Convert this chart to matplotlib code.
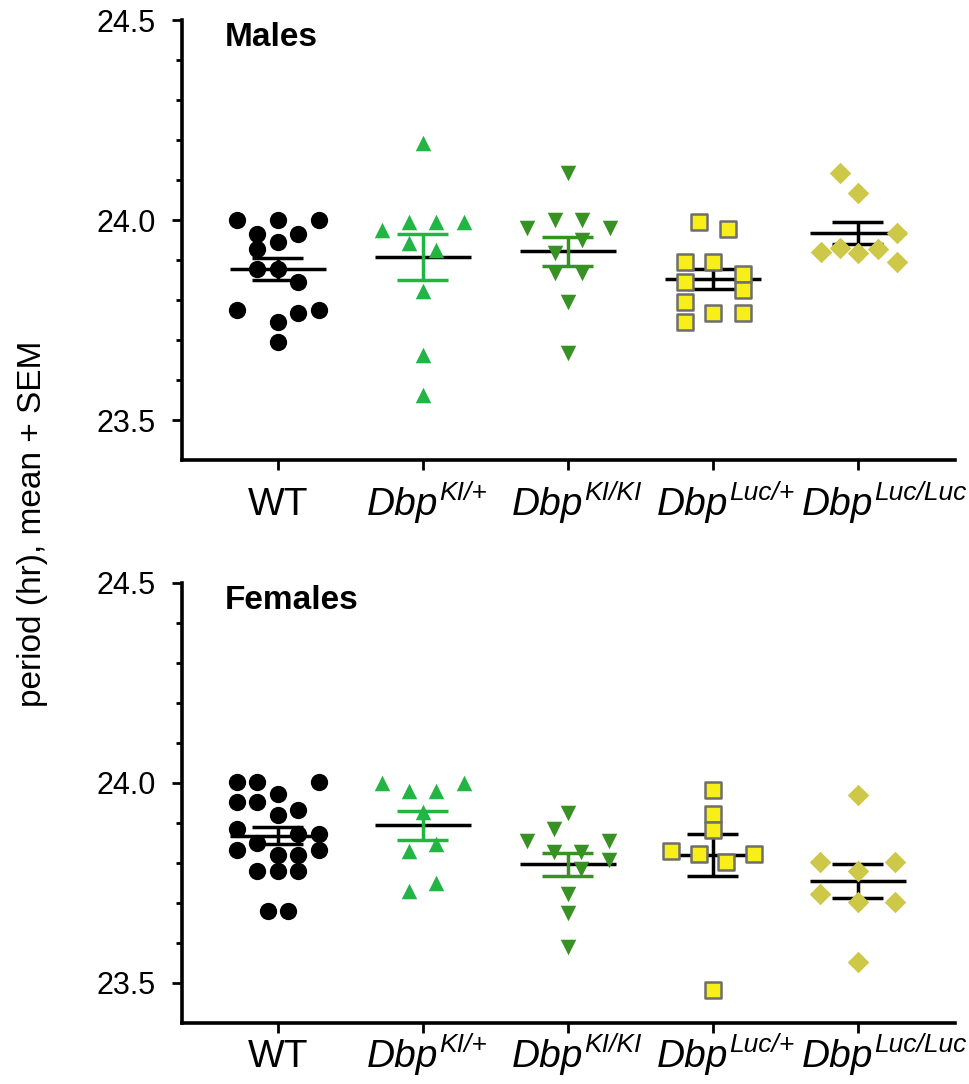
import numpy as np
from matplotlib import pyplot as plt
from matplotlib.ticker import FixedLocator
from matplotlib.transforms import offset_copy

plt.rcParams['font.family'] = ['Liberation Sans', 'DejaVu Sans']

GENOTYPES = ['WT', 'KI/+', 'KI/KI', 'Luc/+', 'Luc/Luc']
# (gene, allele superscript) for each x tick
TICK_LABELS = [('WT', None), ('Dbp', 'KI/+'), ('Dbp', 'KI/KI'), ('Dbp', 'Luc/+'), ('Dbp', 'Luc/Luc')]

# free-running period (hr) of each animal
MALES_WT = [24.0, 24.0, 24.0, 23.965, 23.965, 23.946, 23.928, 23.878, 23.878,
            23.845, 23.775, 23.767, 23.775, 23.746, 23.696]
MALES_KI_HET = [24.193, 23.975, 23.996, 23.996, 23.996, 23.943, 23.925, 23.823, 23.663, 23.563]
MALES_KI_HOM = [24.118, 23.979, 24.0, 24.0, 23.979, 23.918, 23.95, 23.868, 23.868, 23.796, 23.667]
MALES_LUC_HET = [23.996, 23.977, 23.896, 23.896, 23.865, 23.846, 23.825, 23.796, 23.746,
                 23.767, 23.767]
MALES_LUC_HOM = [24.117, 24.067, 23.967, 23.921, 23.929, 23.917, 23.928, 23.896]

FEMALES_WT = [24.003, 24.003, 24.003, 23.953, 23.953, 23.973, 23.921, 23.933, 23.886,
              23.873, 23.873, 23.85, 23.833, 23.833, 23.821, 23.821, 23.781, 23.781,
              23.781, 23.681, 23.681]
FEMALES_KI_HET = [24.0, 23.981, 23.981, 24.0, 23.928, 23.829, 23.848, 23.729, 23.75]
FEMALES_KI_HOM = [23.925, 23.886, 23.856, 23.856, 23.828, 23.828, 23.808, 23.786,
                  23.723, 23.675, 23.589]
FEMALES_LUC_HET = [23.983, 23.923, 23.883, 23.831, 23.823, 23.803, 23.823, 23.483]
FEMALES_LUC_HOM = [23.971, 23.803, 23.803, 23.781, 23.723, 23.703, 23.703, 23.553]

# horizontal scatter offsets of the points (fraction of category spacing)
MALES_WT_DX = [-0.283, 0, 0.283, -0.141, 0.141, 0, -0.141, -0.141, 0, 0.141, -0.283,
               0.141, 0.283, 0, 0]
MALES_KI_HET_DX = [0, -0.278, -0.094, 0.094, 0.283, -0.094, 0.094, 0, 0, 0]
MALES_KI_HOM_DX = [0, -0.283, -0.09, 0.1, 0.29, -0.09, 0.1, -0.09, 0.1, 0, 0]
MALES_LUC_HET_DX = [-0.097, 0.103, -0.193, 0, 0.207, -0.193, 0.207, -0.193, -0.193, 0, 0.207]
MALES_LUC_HOM_DX = [-0.124, 0, 0.267, -0.255, -0.124, 0, 0.136, 0.267]

FEMALES_WT_DX = [-0.283, -0.141, 0.283, -0.283, -0.141, 0, 0, 0.141, -0.283, 0.141,
                 0.283, -0.141, -0.283, 0.283, 0, 0.141, -0.141, 0, 0.141, -0.066, 0.068]
FEMALES_KI_HET_DX = [-0.278, -0.094, 0.094, 0.285, 0, -0.094, 0.094, -0.094, 0.094]
FEMALES_KI_HOM_DX = [0, -0.094, -0.281, 0.283, -0.094, 0.094, 0.283, 0.094, 0, 0, 0]
FEMALES_LUC_HET_DX = [0, 0, 0, -0.285, -0.094, 0.094, 0.283, 0]
FEMALES_LUC_HOM_DX = [0, -0.262, 0.255, 0, -0.262, 0, 0.255, 0]

STYLES = [
    dict(marker='o', s=155, color='black', edge='black', lw=0, bar='black'),
    dict(marker='^', s=125, color='#22b543', edge='#22b543', lw=0, bar='#22b543'),
    dict(marker='v', s=125, color='#379123', edge='#379123', lw=0, bar='#379123'),
    dict(marker='s', s=125, color='#f8ee1a', edge='#6e6e6e', lw=1.8, bar='black'),
    dict(marker='D', s=120, color='#cdc847', edge='#cdc847', lw=0, bar='black'),
]


def draw_tick_labels(axes, baseline):
    """Genotype labels with baselines aligned, superscripted allele names."""
    axes.set_xticks(range(len(TICK_LABELS)), [''] * len(TICK_LABELS))
    transform = offset_copy(axes.get_xaxis_transform(), fig=axes.figure, y=-baseline, units='points')
    for i, (gene, allele) in enumerate(TICK_LABELS):
        if allele is None:
            axes.text(i, 0, gene, transform=transform, ha='center', va='baseline', fontsize=28)
            continue
        base = axes.text(i - 0.385, 0, gene, transform=transform, ha='left', va='baseline',
                         fontsize=28, style='italic')
        axes.annotate(allele, xy=(1, 0), xycoords=base, xytext=(0.5, 16.5), textcoords='offset points',
                      ha='left', va='baseline', fontsize=19, style='italic')


def plot_panel(axes, groups, offsets, title, label_baseline):
    for i, (values, dx, style) in enumerate(zip(groups, offsets, STYLES)):
        values = np.asarray(values)
        mean = values.mean()
        sem = values.std(ddof=1) / np.sqrt(len(values))

        axes.hlines(mean, i - 0.33, i + 0.33, color='black', lw=2.5, zorder=2)
        axes.hlines([mean - sem, mean + sem], i - 0.175, i + 0.175, color=style['bar'], lw=2.5, zorder=2)
        axes.vlines(i, mean - sem, mean + sem, color=style['bar'], lw=2.5, zorder=2)
        axes.scatter(i + np.asarray(dx), values, marker=style['marker'], s=style['s'], c=style['color'],
                     edgecolors=style['edge'], linewidths=style['lw'], zorder=3)

    axes.set_xlim(-0.66, 4.67)
    axes.set_ylim(23.4, 24.5)
    axes.set_yticks([23.5, 24.0, 24.5], ['23.5', '24.0', '24.5'])
    axes.yaxis.set_minor_locator(FixedLocator([23.6, 23.7, 23.8, 23.9, 24.1, 24.2, 24.3, 24.4]))

    for side in 'top', 'right':
        axes.spines[side].set_visible(False)
    for side in 'left', 'bottom':
        axes.spines[side].set_linewidth(2.6)

    axes.tick_params(axis='y', which='major', length=7, width=2, pad=12, labelsize=22)
    axes.tick_params(axis='y', which='minor', length=4.5, width=2)
    axes.tick_params(axis='x', length=7, width=2)
    draw_tick_labels(axes, label_baseline)

    axes.text(0.055, 0.995, title, transform=axes.transAxes, ha='left', va='top',
              fontsize=24, fontweight='bold')


def main():
    fig = plt.figure(figsize=(9.69, 10.84), dpi=100)
    top = fig.add_axes([0.1878, 0.5756, 0.7977, 0.4059])
    bottom = fig.add_axes([0.1878, 0.0563, 0.7977, 0.4059])

    plot_panel(top, [MALES_WT, MALES_KI_HET, MALES_KI_HOM, MALES_LUC_HET, MALES_LUC_HOM],
               [MALES_WT_DX, MALES_KI_HET_DX, MALES_KI_HOM_DX, MALES_LUC_HET_DX, MALES_LUC_HOM_DX],
               'Males', 39.6)
    plot_panel(bottom, [FEMALES_WT, FEMALES_KI_HET, FEMALES_KI_HOM, FEMALES_LUC_HET, FEMALES_LUC_HOM],
               [FEMALES_WT_DX, FEMALES_KI_HET_DX, FEMALES_KI_HOM_DX, FEMALES_LUC_HET_DX, FEMALES_LUC_HOM_DX],
               'Females', 32)

    fig.text(0.034, 0.517, 'period (hr), mean + SEM', rotation=90, ha='center', va='center', fontsize=24)

    fig.savefig('out.png', dpi=100)
    plt.close(fig)


if __name__ == '__main__':
    main()
